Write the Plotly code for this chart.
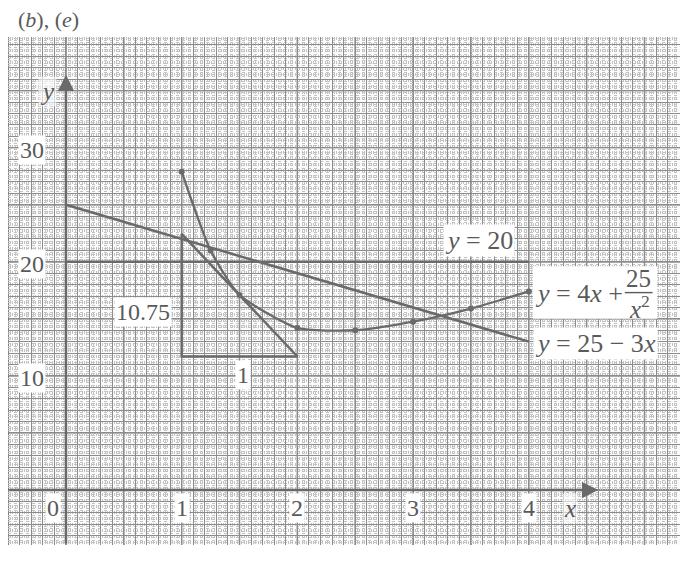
import plotly.graph_objects as go
import numpy as np

# ---- data ----
curve_x = [1, 1.25, 1.5, 2, 2.5, 3, 3.5, 4]
curve_y = [27.9, 21.0, 17.1, 14.2, 14.0, 14.75, 15.9, 17.4]

line_x = [0, 4]
line_y = [25, 13]          # y = 25 - 3x

h_x = [0, 4]
h_y = [20, 20]             # y = 20

tan_x = [1, 2]
tan_y = [22.45, 11.7]      # tangent at x = 1.5, gradient -10.75

tri_x = [1, 1, 2]
tri_y = [22.45, 11.7, 11.7]

xtick_vals = [0, 1, 2, 3, 4]
xtick_text = ["0", "1", "2", "3", "4"]
ytick_vals = [10, 20, 30]
ytick_text = ["10", "20", "30"]

XR = [-0.501, 5.307]
YR = [-4.82, 39.7]

INK = "#6a6a6a"
TXT = "#5a5a5a"
FONT = "'Liberation Serif', 'Times New Roman', 'DejaVu Serif', serif"

fig = go.Figure()

fig.add_trace(go.Scatter(x=h_x, y=h_y, mode="lines",
                         line=dict(color=INK, width=2.5), hoverinfo="skip"))
fig.add_trace(go.Scatter(x=line_x, y=line_y, mode="lines",
                         line=dict(color=INK, width=2.5), hoverinfo="skip"))
fig.add_trace(go.Scatter(x=tan_x, y=tan_y, mode="lines",
                         line=dict(color=INK, width=2.5), hoverinfo="skip"))
fig.add_trace(go.Scatter(x=tri_x, y=tri_y, mode="lines",
                         line=dict(color=INK, width=2.5), hoverinfo="skip"))
fig.add_trace(go.Scatter(x=curve_x, y=curve_y, mode="lines+markers",
                         line=dict(color=INK, width=2.3, shape="spline", smoothing=0.6),
                         marker=dict(color=INK, size=6), hoverinfo="skip"))

# bold graph-paper lines every 0.5 in x and 5 in y
shapes = []
for gx in np.arange(-0.5, 5.31, 0.5):
    shapes.append(dict(type="line", xref="x", yref="paper", x0=gx, x1=gx, y0=0, y1=1,
                       line=dict(color="#5a5a5a", width=1.3), layer="below"))
for gy in range(-5, 40, 5):
    if YR[0] <= gy <= YR[1]:
        shapes.append(dict(type="line", xref="paper", yref="y", x0=0, x1=1, y0=gy, y1=gy,
                           line=dict(color="#5a5a5a", width=1.3), layer="below"))

anns = []
# axes with arrows
anns.append(dict(x=0, y=36.4, ax=0, ay=YR[0], xref="x", yref="y", axref="x", ayref="y",
                 showarrow=True, arrowhead=2, arrowsize=1.3, arrowwidth=2.5,
                 arrowcolor=INK, text=""))
anns.append(dict(x=4.6, y=0, ax=XR[0], ay=0, xref="x", yref="y", axref="x", ayref="y",
                 showarrow=True, arrowhead=2, arrowsize=1.3, arrowwidth=2.5,
                 arrowcolor=INK, text=""))

def label(x, y, text, size=24, xanchor="center", bg="white", xref="x", yref="y", pad=1):
    anns.append(dict(x=x, y=y, xref=xref, yref=yref, text=text, showarrow=False,
                     xanchor=xanchor, yanchor="middle",
                     font=dict(family=FONT, size=size, color=TXT),
                     bgcolor=bg, borderpad=pad))

for v, t in zip(xtick_vals, xtick_text):
    xv = -0.11 if v == 0 else v
    label(xv, -1.6, t, size=24)
for v, t in zip(ytick_vals, ytick_text):
    label(-0.29, v - 0.2, t, size=24)

label(-0.16, 34.9, "<i>y</i>", size=25, bg="rgba(255,255,255,0.6)")
label(4.36, -1.6, "<i>x</i>", size=25, bg="rgba(255,255,255,0.6)")
label(0.67, 15.6, "10.75", size=24)
label(1.53, 10.05, "1", size=24)
label(3.57, 21.9, "<i>y</i> = 20", size=26)
# white block behind the fraction label
shapes.append(dict(type="rect", xref="x", yref="y", x0=4.035, x1=5.11, y0=15.0, y1=19.6,
                   fillcolor="white", line=dict(width=0)))
label(4.04, 17.2, "<i>y</i> = 4<i>x</i> +", size=26, xanchor="left", bg="rgba(0,0,0,0)")
label(4.945, 18.5, "25", size=25, bg="rgba(0,0,0,0)")
label(4.955, 16.05, "<i>x</i><sup>2</sup>", size=25, bg="rgba(0,0,0,0)")
label(4.035, 12.8, "<i>y</i> = 25 − 3<i>x</i>", size=26, xanchor="left")
label(0.012, 1.034, "(<i>b</i>), (<i>e</i>)", size=22, xanchor="left", bg="rgba(0,0,0,0)",
      xref="paper", yref="paper")

# fraction bar
shapes.append(dict(type="line", xref="x", yref="y", x0=4.83, x1=5.07, y0=17.3, y1=17.3,
                   line=dict(color=TXT, width=1.4)))

# the page body adds an 8px margin, so the figure is 8px smaller and shifted
fig.update_layout(
    width=680, height=568,
    margin=dict(l=0, r=8, t=29, b=31),
    paper_bgcolor="white", plot_bgcolor="#fbfbfb",
    showlegend=False,
    shapes=shapes, annotations=anns,
    xaxis=dict(range=XR, showticklabels=False, ticks="", zeroline=False,
               showgrid=True, tick0=0, dtick=0.1, gridcolor="#8c8c8c", gridwidth=1,
               minor=dict(dtick=0.02, tick0=0, showgrid=True, gridcolor="#c2c2c2",
                          griddash="dot", gridwidth=1),
               fixedrange=True),
    yaxis=dict(range=YR, showticklabels=False, ticks="", zeroline=False,
               showgrid=True, tick0=0, dtick=1, gridcolor="#8c8c8c", gridwidth=1,
               minor=dict(dtick=0.2, tick0=0, showgrid=True, gridcolor="#c2c2c2",
                          griddash="dot", gridwidth=1),
               fixedrange=True),
)

fig.write_html("out.html")
